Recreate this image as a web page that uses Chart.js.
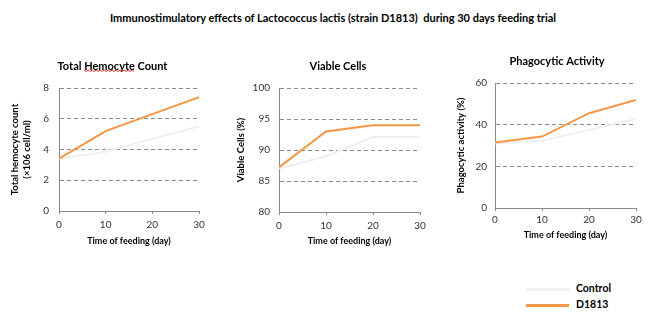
<!DOCTYPE html>
<html>
<head>
<meta charset="utf-8">
<script src="https://cdn.jsdelivr.net/npm/chart.js@4"></script>
<style>
  body { margin: 0; background: #fff; }
  #wrap { position: relative; width: 660px; height: 324px; overflow: hidden; font-family: Lato, sans-serif; color: #000; }
  canvas { position: absolute; }
  #title { position: absolute; left: 0; width: 666px; top: 11px; text-align: center; font-weight: bold; font-size: 11px; }
  .leg { position: absolute; left: 526px; font-size: 10.5px; font-weight: bold; line-height: 12px; }
  .leg i { display: inline-block; width: 43px; height: 3px; vertical-align: middle; margin-right: 7px; }
</style>
</head>
<body>
<div id="wrap">
  <div id="title">Immunostimulatory effects of Lactococcus lactis (strain D1813)&nbsp; during 30 days feeding trial</div>
  <canvas id="c1" width="225" height="210" style="left:0px;top:40px"></canvas>
  <canvas id="c2" width="216" height="210" style="left:230px;top:40px"></canvas>
  <canvas id="c3" width="204" height="210" style="left:455px;top:40px"></canvas>
  <div class="leg" style="top:282px"><i style="background:#efefef"></i>Control</div>
  <div class="leg" style="top:298px"><i style="background:#f79646"></i>D1813</div>
</div>
<script>
// data
const days = [0, 10, 20, 30];
const xTicks = [0, 10, 20, 30];

const hemoControl = [3.4, 3.85, 4.7, 5.5];
const hemoD1813 = [3.4, 5.2, 6.3, 7.4];
const hemoTicks = [0, 2, 4, 6, 8];

const viableControl = [87, 89, 92.1, 92.1];
const viableD1813 = [87.2, 93, 94, 94];
const viableTicks = [80, 85, 90, 95, 100];

const phagoControl = [31, 32.3, 37.4, 42.9];
const phagoD1813 = [31.4, 34.3, 45.5, 51.9];
const phagoTicks = [0, 20, 40, 60];

const FONT = 'Lato';
const GRID = '#8a8a8a';

// pair the x values with one series
points = function(values) {
  return days.map((d, i) => ({x: d, y: values[i]}));
}

// build one of the three small line charts
makeChart = function(id, opt) {
  new Chart(document.getElementById(id), {
    type: 'line',
    data: {
      datasets: [{
        label: 'D1813',
        data: points(opt.d1813),
        borderColor: '#f79646',
        borderWidth: 2,
        pointRadius: 0,
        order: 0
      }, {
        label: 'Control',
        data: points(opt.control),
        borderColor: '#efefef',
        borderWidth: 2,
        pointRadius: 0,
        order: 1
      }]
    },
    options: {
      responsive: false,
      animation: false,
      events: [],
      layout: {padding: 0},
      plugins: {
        legend: {display: false},
        tooltip: {enabled: false},
        title: {
          display: true,
          text: opt.title,
          color: '#000',
          font: {family: FONT, size: 11, weight: 'bold'},
          padding: {top: opt.titleTop, bottom: opt.titleBottom}
        }
      },
      scales: {
        x: {
          type: 'linear',
          min: 0,
          max: 30,
          afterBuildTicks: s => { s.ticks = xTicks.map(v => ({value: v})); },
          afterFit: s => { s.height = opt.xHeight; },
          grid: {drawOnChartArea: false, drawTicks: true, tickLength: 3, color: GRID},
          border: {color: GRID, width: 1},
          ticks: {padding: opt.xPad, color: '#333', font: {family: FONT, size: 10}},
          title: {
            display: true,
            text: 'Time of feeding (day)',
            color: '#000',
            font: {family: FONT, size: 9, weight: 'bold'},
            padding: {top: 0, bottom: opt.xTitleBottom}
          }
        },
        y: {
          min: opt.ticks[0],
          max: opt.ticks[opt.ticks.length - 1],
          afterBuildTicks: s => { s.ticks = opt.ticks.map(v => ({value: v})); },
          afterFit: s => { s.width = opt.yWidth; },
          grid: {
            drawTicks: false,
            color: c => c.tick && c.tick.value === opt.ticks[0] ? 'rgba(0,0,0,0)' : GRID
          },
          border: {color: GRID, width: 1, dash: [4, 3]},
          ticks: {padding: opt.yPad, color: '#333', font: {family: FONT, size: 10}},
          title: {
            display: true,
            text: opt.yTitle,
            color: '#000',
            font: {family: FONT, size: 9.5, weight: 'bold', lineHeight: 1.3},
            padding: {top: opt.yTitlePad, bottom: 0}
          }
        },
        // empty axis, only keeps room at the right so the title stays centred on the canvas
        spacer: {
          position: 'right',
          display: true,
          grid: {display: false},
          border: {display: false},
          ticks: {display: false},
          afterFit: s => { s.width = opt.right; }
        }
      }
    },
    plugins: opt.plugins || []
  });
}

// red squiggle under "Hemocyte" like in the original document
const squiggle = {
  id: 'squiggle',
  afterDraw(chart) {
    const ctx = chart.ctx;
    ctx.save();
    ctx.font = 'bold 11px ' + FONT;
    const full = ctx.measureText('Total Hemocyte Count').width;
    const pre = ctx.measureText('Total ').width;
    const word = ctx.measureText('Hemocyte').width;
    const x0 = chart.width / 2 - full / 2 + pre;
    const y = chart.titleBlock.top + 30;
    ctx.strokeStyle = '#e03030';
    ctx.lineWidth = 1;
    ctx.beginPath();
    ctx.moveTo(x0, y);
    for (let i = 1; i * 2 <= word; i++) {
      ctx.lineTo(x0 + i * 2, y + (i % 2 === 1 ? 1.5 : 0));
    }
    ctx.stroke();
    ctx.restore();
  }
};

makeChart('c1', {
  title: 'Total Hemocyte Count',
  yTitle: ['Total hemocyte count', '(\u00d7106 cell/ml)'],
  control: hemoControl, d1813: hemoD1813, ticks: hemoTicks,
  right: 26, yWidth: 59, yPad: 10, yTitlePad: 8.8,
  titleTop: 19.4, titleBottom: 15.4,
  xHeight: 39, xPad: 5, xTitleBottom: 4,
  plugins: [squiggle]
});

makeChart('c2', {
  title: 'Viable Cells',
  yTitle: 'Viable Cells (%)',
  control: viableControl, d1813: viableD1813, ticks: viableTicks,
  right: 26, yWidth: 49, yPad: 9, yTitlePad: 5,
  titleTop: 19.4, titleBottom: 15.4,
  xHeight: 38, xPad: 5, xTitleBottom: 4,
});

makeChart('c3', {
  title: 'Phagocytic Activity',
  yTitle: 'Phagocytic activity (%)',
  control: phagoControl, d1813: phagoD1813, ticks: phagoTicks,
  right: 23, yWidth: 40, yPad: 8, yTitlePad: 0,
  titleTop: 15.1, titleBottom: 14.7,
  xHeight: 42, xPad: 3, xTitleBottom: 10,
});
</script>
</body>
</html>
